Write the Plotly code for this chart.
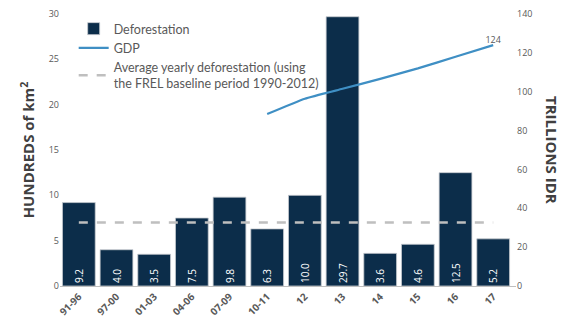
import plotly.graph_objects as go

categories = ["91-96", "97-00", "01-03", "04-06", "07-09", "10-11", "12", "13", "14", "15", "16", "17"]
deforestation = [9.2, 4.0, 3.5, 7.5, 9.8, 6.3, 10.0, 29.7, 3.6, 4.6, 12.5, 5.2]
gdp_categories = ["10-11", "12", "13", "14", "15", "16", "17"]
gdp = [88.5, 96.4, 101.5, 106.6, 112.0, 118.0, 124.0]
avg_deforestation = 7.0

fig = go.Figure()
fig.add_trace(go.Bar(
    x=categories, y=deforestation, name="Deforestation",
    marker=dict(color="#0c2d4a", line=dict(color="#c8ccd0", width=0.8)),
    text=[f"{v:.1f}" for v in deforestation], textposition="inside",
    insidetextanchor="start", textangle=-90,
    textfont=dict(color="white", size=10, family="Open Sans"),
    yaxis="y",
))
fig.add_trace(go.Scatter(
    x=gdp_categories, y=gdp, name="GDP", mode="lines",
    line=dict(color="#3f8fc4", width=2.2, shape="spline", smoothing=0.4),
    yaxis="y2",
))
fig.add_trace(go.Scatter(
    x=[gdp_categories[-1]], y=[gdp[-1]], mode="text", showlegend=False,
    text=[f"{gdp[-1]:.0f}"], textposition="top center",
    textfont=dict(color="#595959", size=9, family="Open Sans"),
    yaxis="y2", hoverinfo="skip",
))
fig.add_trace(go.Scatter(
    x=categories, y=[avg_deforestation] * len(categories),
    name="Average yearly deforestation (using<br>the FREL baseline period 1990-2012)",
    mode="lines", line=dict(color="#bfbfbf", width=2.5, dash="dash"),
    yaxis="y",
))

fig.add_annotation(
    text="TRILLIONS IDR", textangle=90, xref="paper", yref="paper",
    x=1.0, y=0.5, xanchor="center", yanchor="middle", xshift=36,
    showarrow=False,
    font=dict(size=15, color="#404040", family="Open Sans", weight="bold"),
)

fig.update_layout(
    width=574, height=324,
    margin=dict(l=60, r=58, t=14, b=38),
    paper_bgcolor="white", plot_bgcolor="white",
    font=dict(family="Lato", color="#595959"),
    bargap=0.13,
    showlegend=True,
    legend=dict(x=0.03, y=1.0, xanchor="left", yanchor="top",
                font=dict(size=12.5, color="#595959", family="Lato"),
                bgcolor="rgba(0,0,0,0)", tracegroupgap=0, itemwidth=30),
    xaxis=dict(type="category", tickangle=-45, showgrid=False, automargin=False,
               showline=True, linecolor="#bfbfbf", linewidth=1,
               tickfont=dict(size=10, color="#595959", family="Open Sans", weight="bold"),
               ticks=""),
    yaxis=dict(range=[0, 30], dtick=5, showgrid=False, zeroline=False, automargin=False,
               tickfont=dict(size=9, color="#595959", family="Open Sans"),
               title=dict(text="HUNDREDS of km<sup>2</sup>",
                          font=dict(size=15, color="#404040", family="Open Sans", weight="bold"),
                          standoff=10)),
    yaxis2=dict(range=[0, 140], dtick=20, overlaying="y", side="right",
                showgrid=False, zeroline=False, automargin=False,
                tickfont=dict(size=9, color="#595959", family="Open Sans")),
)

fig.write_html("out.html")
